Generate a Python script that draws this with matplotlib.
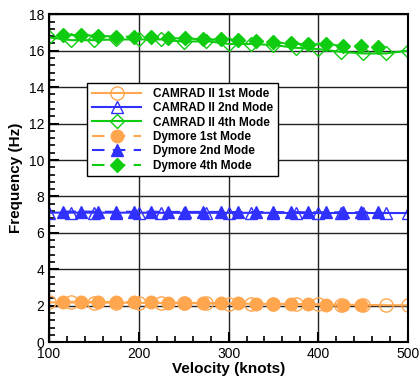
import numpy as np
import matplotlib
matplotlib.use("Agg")
import matplotlib.pyplot as plt
from matplotlib.ticker import MultipleLocator

# CAMRAD II results
camrad_v = [100, 125, 150, 175, 200, 225, 250, 275, 300, 325, 350, 375, 400, 425, 450, 475, 500]
camrad_1 = [2.18, 2.18, 2.17, 2.17, 2.16, 2.15, 2.14, 2.13, 2.12, 2.11, 2.10, 2.09, 2.07, 2.06, 2.04, 2.03, 2.02]
camrad_2 = [7.11, 7.11, 7.11, 7.11, 7.11, 7.10, 7.10, 7.10, 7.10, 7.10, 7.10, 7.09, 7.09, 7.09, 7.09, 7.09, 7.09]
camrad_4 = [16.73, 16.58, 16.58, 16.62, 16.62, 16.62, 16.49, 16.53, 16.37, 16.37, 16.31, 16.16, 16.09, 15.94, 15.85, 15.85, 16.0]

# Dymore results
dym_v = [116, 136, 155, 175, 195, 214, 233, 252, 272, 292, 311, 331, 350, 369, 388, 408, 427, 447, 466]
dym_1 = [2.22, 2.21, 2.21, 2.20, 2.19, 2.18, 2.17, 2.16, 2.15, 2.14, 2.13, 2.12, 2.10, 2.09, 2.07, 2.06, 2.04, 2.03]
dym_2 = [7.17, 7.17, 7.16, 7.16, 7.16, 7.16, 7.15, 7.15, 7.15, 7.15, 7.14, 7.14, 7.14, 7.14, 7.13, 7.13, 7.13, 7.13, 7.12]
dym_4 = [16.86, 16.86, 16.82, 16.77, 16.77, 16.73, 16.68, 16.68, 16.62, 16.62, 16.58, 16.55, 16.46, 16.40, 16.35, 16.35, 16.27, 16.27, 16.22]

orange = "#ffa64f"
blue = "#3030ff"
green = "#10cc10"

plt.rcParams["font.family"] = ["Liberation Sans", "DejaVu Sans"]
plt.rcParams["font.weight"] = "bold"

fig = plt.figure(figsize=(4.19, 3.76), dpi=100)
ax = fig.add_axes([0.117, 0.090, 0.857, 0.872])

ax.plot(camrad_v, camrad_1, color=orange, lw=1.5, marker="o", ms=9.5, mfc="none", mew=1.0, label="CAMRAD II 1st Mode")
ax.plot(camrad_v, camrad_2, color=blue, lw=1.5, marker="^", ms=8.5, mfc="none", mew=1.0, label="CAMRAD II 2nd Mode")
ax.plot(camrad_v, camrad_4, color=green, lw=1.5, marker="D", ms=7.5, mfc="none", mew=1.0, label="CAMRAD II 4th Mode")
ax.plot(dym_v[:len(dym_1)], dym_1, color=orange, lw=1.5, ls=(0, (6, 4)), marker="o", ms=9, label="Dymore 1st Mode")
ax.plot(dym_v, dym_2, color=blue, lw=1.5, ls=(0, (6, 4)), marker="^", ms=8, label="Dymore 2nd Mode")
ax.plot(dym_v, dym_4, color=green, lw=1.5, ls=(0, (6, 4)), marker="D", ms=7.5, label="Dymore 4th Mode")

ax.set_xlim(100, 500)
ax.set_ylim(0, 18)
ax.xaxis.set_major_locator(MultipleLocator(100))
ax.xaxis.set_minor_locator(MultipleLocator(20))
ax.yaxis.set_major_locator(MultipleLocator(2))
ax.yaxis.set_minor_locator(MultipleLocator(0.4))
ax.grid(True, which="major", color="#222222", lw=1.0)
ax.set_axisbelow(True)
ax.tick_params(which="both", direction="in", labelsize=10)
ax.tick_params(which="major", length=7, width=1.5)
ax.tick_params(which="minor", length=4, width=1.2)
for lab in ax.get_xticklabels() + ax.get_yticklabels():
    lab.set_fontweight("normal")
for s in ax.spines.values():
    s.set_linewidth(1.5)

ax.set_xlabel("Velocity (knots)", fontsize=11, fontweight="bold", labelpad=1)
ax.set_ylabel("Frequency (Hz)", fontsize=11, fontweight="bold", labelpad=4)

leg = ax.legend(loc="upper left", bbox_to_anchor=(0.106, 0.79), borderaxespad=0,
                fontsize=8.5, handlelength=4.2, numpoints=1, markerfirst=True,
                fancybox=False, framealpha=1, edgecolor="black",
                labelspacing=0.2, borderpad=0.4, handletextpad=1.0)
leg.get_frame().set_linewidth(1.0)

fig.savefig("out.png", dpi=100)
